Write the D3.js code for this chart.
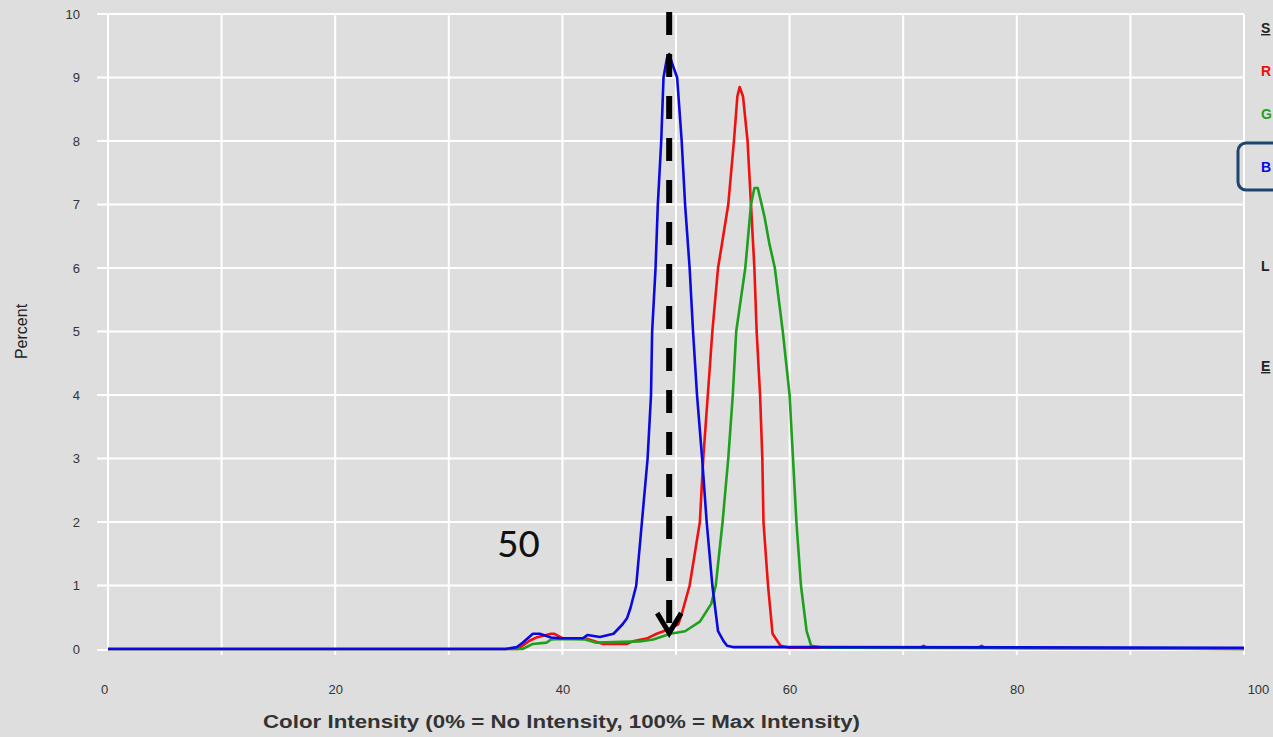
<!DOCTYPE html>
<html>
<head>
<meta charset="utf-8">
<script src="https://cdn.jsdelivr.net/npm/d3@7"></script>
<style>
  body { margin: 0; background: #dedede; overflow: hidden; }
  svg { display: block; }
</style>
</head>
<body>
<svg width="1273" height="737"></svg>
<script>
// histogram points: [intensity %, percent]
var redPoints = [[0,0],[36.1,0],[37.1,0.13],[37.7,0.18],[39.0,0.24],[39.3,0.24],[40,0.17],[42,0.17],[43.6,0.08],[45.7,0.08],
  [46.2,0.12],[47.5,0.17],[48.3,0.24],[49.2,0.3],[50.2,0.39],[50.5,0.55],[51.2,1.0],[52.1,2.0],[52.4,3.0],[52.8,4.0],
  [53.2,5.0],[53.7,6.0],[54.1,6.44],[54.6,7.0],[55.1,8.0],[55.4,8.7],[55.6,8.85],[55.9,8.7],[56.3,8.0],[56.6,7.0],
  [56.9,6.0],[57.1,5.0],[57.4,4.0],[57.6,3.0],[57.7,2.0],[58.1,1.0],[58.5,0.24],[59.2,0.05],[60,0.02],[71.5,0.02],
  [71.8,0.05],[72.1,0.02],[76.6,0.02],[76.9,0.05],[77.2,0.02],[100,0]];
var greenPoints = [[0,0],[36.5,0],[37.4,0.08],[38.6,0.1],[39.0,0.15],[39.8,0.16],[42,0.15],[43,0.1],[46.8,0.12],[48,0.15],
  [49.5,0.24],[50.8,0.28],[52.1,0.43],[53.1,0.71],[53.5,1.0],[54.1,2.0],[54.6,3.0],[55.0,4.0],[55.3,5.0],[56.1,6.0],
  [56.6,7.0],[56.9,7.26],[57.2,7.26],[57.8,6.8],[58.2,6.4],[58.7,6.0],[59.4,5.0],[60.0,4.0],[60.3,3.0],[60.6,2.0],
  [61.0,1.0],[61.5,0.28],[61.9,0.05],[63,0.02],[100,0]];
var bluePoints = [[0,0],[35.0,0],[36.0,0.03],[36.5,0.1],[37.4,0.24],[38.0,0.24],[39.0,0.18],[39.8,0.17],[41.8,0.17],[42.2,0.22],
  [43.3,0.19],[44.5,0.24],[45.3,0.39],[45.7,0.49],[46.0,0.65],[46.5,1.0],[47.0,2.0],[47.5,3.0],[47.8,4.0],[47.9,5.0],
  [48.2,6.0],[48.4,7.0],[48.7,8.0],[48.9,9.0],[49.2,9.3],[49.4,9.37],[49.7,9.2],[50.1,9.0],[50.5,8.0],[50.8,7.0],
  [51.2,6.0],[51.5,5.0],[51.85,4.0],[52.3,3.0],[52.7,2.0],[53.2,1.0],[53.7,0.28],[54.2,0.12],[54.5,0.05],[55,0.03],
  [62,0.03],[100,0.02]];

var xTicks = [0, 20, 40, 60, 80, 100];
var xGrid = [10, 20, 30, 40, 50, 60, 70, 80, 90];
var yTicks = [0, 1, 2, 3, 4, 5, 6, 7, 8, 9, 10];
// the side panel is cut by the picture edge, only the first letters show
var legendItems = ['S', 'R', 'G', 'B', 'L', 'E'];
var markerValue = 49.4;
var markerLabel = '50';

var margin = { top: 14, left: 108, right: 29, bottom: 88 };
var width = 1273 - margin.left - margin.right;
var height = 737 - margin.top - margin.bottom;

var x = d3.scaleLinear().domain([0, 100]).range([0, width]);
var y = d3.scaleLinear().domain([0, 10]).range([height, 0]);

var svg = d3.select('svg');
var graph = svg.append('g')
    .attr('transform', 'translate(' + margin.left + ',' + margin.top + ')');

// grid
graph.selectAll('.hgrid').data(yTicks.slice(1)).enter().append('line')
    .attr('x1', -11).attr('x2', width)
    .attr('y1', function (d) { return y(d); }).attr('y2', function (d) { return y(d); })
    .attr('stroke', '#fff').attr('stroke-width', 2);
graph.selectAll('.vgrid').data(xGrid).enter().append('line')
    .attr('x1', function (d) { return x(d); }).attr('x2', function (d) { return x(d); })
    .attr('y1', 0).attr('y2', height + 6)
    .attr('stroke', '#fff').attr('stroke-width', 2);
// frame
graph.append('line').attr('x1', 0).attr('x2', 0).attr('y1', 0).attr('y2', height)
    .attr('stroke', '#fff').attr('stroke-width', 2);
graph.append('line').attr('x1', width).attr('x2', width).attr('y1', 0).attr('y2', height + 6)
    .attr('stroke', '#fff').attr('stroke-width', 2);
graph.append('line').attr('x1', -11).attr('x2', width).attr('y1', height + 1).attr('y2', height + 1)
    .attr('stroke', '#fff').attr('stroke-width', 2);

// axes
var yAxis = d3.axisLeft(y).tickValues(yTicks).tickSize(0).tickPadding(28);
var xAxis = d3.axisBottom(x).tickValues(xTicks).tickSize(0).tickPadding(36);
var gy = graph.append('g').call(yAxis);
var gx = graph.append('g').attr('transform', 'translate(0,' + height + ')').call(xAxis);
[gx, gy].forEach(function (g) {
    g.select('.domain').remove();
    g.selectAll('text')
        .style('font-family', 'Arial, "Liberation Sans", sans-serif')
        .style('font-size', '13px')
        .style('fill', '#333');
});
gx.selectAll('text').attr('dx', function (d) { return d === 0 ? -4 : (d === 100 ? 14 : 0); });

// series
var line = d3.line()
    .x(function (d) { return x(d[0]); })
    .y(function (d) { return y(d[1]); });
var series = [
    { values: redPoints, color: '#f01010' },
    { values: greenPoints, color: '#1ea01e' },
    { values: bluePoints, color: '#0a0ae0' }
];
graph.selectAll('.run').data(series).enter().append('path')
    .attr('d', function (d) { return line(d.values); })
    .attr('fill', 'none')
    .attr('stroke', function (d) { return d.color; })
    .attr('stroke-width', 2.6)
    .attr('stroke-linejoin', 'round');

// dashed marker with arrow
var mx = x(markerValue);
graph.append('line')
    .attr('x1', mx).attr('x2', mx).attr('y1', -2).attr('y2', y(0.25) - 4)
    .attr('stroke', '#000').attr('stroke-width', 6)
    .attr('stroke-dasharray', '23,19');
graph.append('path')
    .attr('d', 'M' + (mx - 12) + ',' + (y(0.25) - 20) + 'L' + mx + ',' + y(0.25) + 'L' + (mx + 12) + ',' + (y(0.25) - 20))
    .attr('fill', 'none').attr('stroke', '#000').attr('stroke-width', 5);
graph.append('text')
    .attr('x', x(markerValue) - 172).attr('y', y(1.45))
    .style('font-family', 'Carlito, "Open Sans", "Liberation Sans", sans-serif')
    .style('font-size', '42px')
    .style('fill', '#111')
    .text(markerLabel);

// titles
svg.append('text')
    .attr('transform', 'translate(27,' + (margin.top + y(5)) + ') rotate(-90)')
    .attr('text-anchor', 'middle')
    .style('font-family', 'Arial, "Liberation Sans", sans-serif')
    .style('font-size', '16px')
    .style('fill', '#222')
    .text('Percent');
svg.append('text')
    .attr('x', 263).attr('y', 728)
    .attr('textLength', 597)
    .attr('lengthAdjust', 'spacingAndGlyphs')
    .style('font-family', 'Arial, "Liberation Sans", sans-serif')
    .style('font-weight', 'bold')
    .style('font-size', '18px')
    .style('fill', '#333')
    .text('Color Intensity (0% = No Intensity, 100% = Max Intensity)');

// side panel
var legendY = [33, 76, 119, 172, 271, 371];
var legendColor = ['#222', '#f01010', '#1ea01e', '#0a0ae0', '#222', '#222'];
svg.append('rect')
    .attr('x', 1238).attr('y', 143).attr('width', 60).attr('height', 47)
    .attr('rx', 8).attr('fill', 'none').attr('stroke', '#1e4470').attr('stroke-width', 3);
svg.selectAll('.legend').data(legendItems).enter().append('text')
    .attr('x', 1261)
    .attr('y', function (d, i) { return legendY[i]; })
    .style('font-family', 'Arial, "Liberation Sans", sans-serif')
    .style('font-weight', 'bold')
    .style('font-size', '14px')
    .style('text-decoration', function (d, i) { return (i === 0 || i === 5) ? 'underline' : 'none'; })
    .style('fill', function (d, i) { return legendColor[i]; })
    .text(function (d) { return d; });
</script>
</body>
</html>
